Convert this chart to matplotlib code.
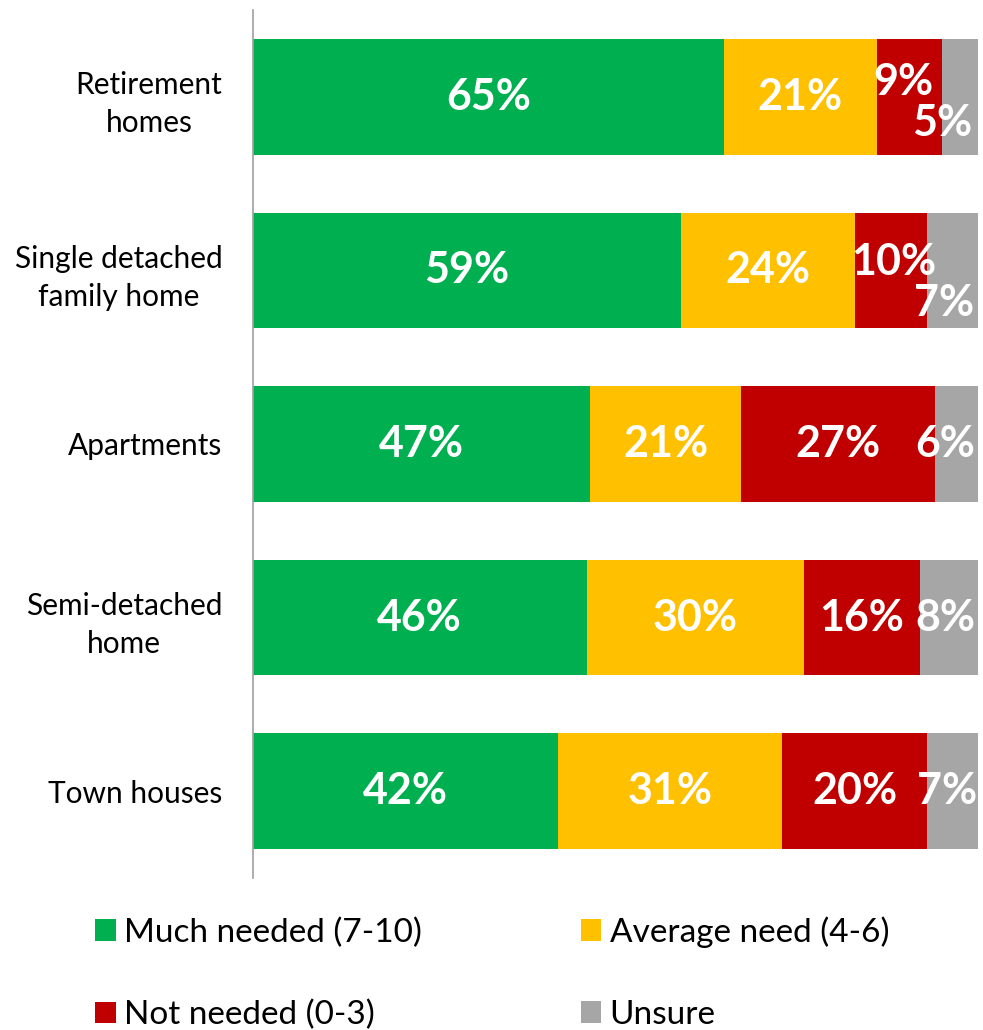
import numpy as np
import matplotlib
matplotlib.use("Agg")
import matplotlib.pyplot as plt
import matplotlib.transforms as mtransforms

plt.rcParams['font.family'] = ['Lato', 'DejaVu Sans']

# data
categories = ["Retirement\nhomes", "Single detached\nfamily home", "Apartments",
              "Semi-detached\nhome", "Town houses"]
series = ["Much needed (7-10)", "Average need (4-6)", "Not needed (0-3)", "Unsure"]
much_needed = [65, 59, 47, 46, 42]
average_need = [21, 24, 21, 30, 31]
not_needed = [9, 10, 27, 16, 20]
unsure = [5, 7, 6, 8, 7]

colors = ["#00B050", "#FFC000", "#C00000", "#A6A6A6"]

# manual nudges for crowded labels, (row, series) -> (dx, dy) in pixels, y up
nudge = {
    (0, 2): (-6, 15), (0, 3): (-18, -26),
    (1, 2): (3, 8), (1, 3): (-9, -33),
    (2, 3): (-11, 0), (3, 3): (-4, 0), (4, 3): (-6, 0),
}

vals = np.array([much_needed, average_need, not_needed, unsure], dtype=float)
shares = vals / vals.sum(axis=0)
y = np.arange(len(categories))

fig = plt.figure(figsize=(9.83, 10.3), dpi=100)
ax = fig.add_axes([253 / 983, 1 - 878 / 1030, 725 / 983, 868 / 1030])

left = np.zeros(len(categories))
bars = []
for i, name in enumerate(series):
    b = ax.barh(y, shares[i], left=left, height=0.665, color=colors[i], label=name)
    bars.append(b)
    for r in range(len(categories)):
        cx = left[r] + shares[i][r] / 2
        dx, dy = nudge.get((r, i), (0, 0))
        ax.annotate(f"{int(vals[i][r])}%", (cx, y[r]), xytext=(dx * 0.72, dy * 0.72),
                    textcoords="offset points", ha="center", va="center",
                    color="white", fontsize=31, fontweight="bold")
    left += shares[i]

ax.set_xlim(0, 1)
ax.set_ylim(len(categories) - 0.5, -0.5)
ax.set_yticks(y)
ax.set_yticklabels(categories, fontsize=21.5, linespacing=1.42)
lift = mtransforms.ScaledTranslation(0, 5 / 100, fig.dpi_scale_trans)
for lab in ax.get_yticklabels():
    lab.set_multialignment("center")
    lab.set_transform(lab.get_transform() + lift)
ax.tick_params(axis="y", length=0, pad=22)
ax.set_xticks([])
for s in ["top", "right", "bottom"]:
    ax.spines[s].set_visible(False)
ax.spines["left"].set_color("#A0A0A0")
ax.spines["left"].set_linewidth(1.2)

# legend fills column by column, so order handles to read row by row
order = [0, 2, 1, 3]
fig.legend(handles=[bars[k] for k in order], labels=[series[k] for k in order],
           loc="upper left", bbox_to_anchor=(82 / 983, 1 - 903 / 1030), ncol=2,
           frameon=False, fontsize=24, handlelength=0.62, handleheight=0.62,
           handletextpad=0.25, labelspacing=1.55, columnspacing=4.75, borderaxespad=0)

plt.savefig("out.png", dpi=100)
